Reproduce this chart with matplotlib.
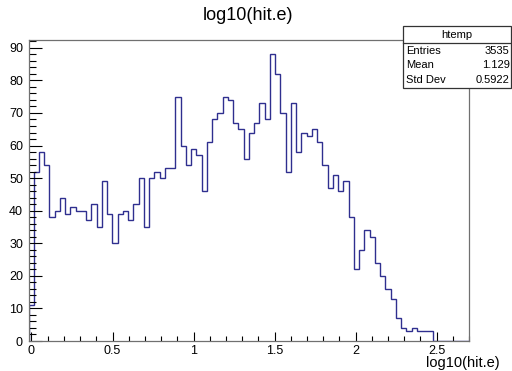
import matplotlib
matplotlib.use("Agg")
import matplotlib.pyplot as plt
from matplotlib.patches import Rectangle
from matplotlib.lines import Line2D
from matplotlib.ticker import MultipleLocator
import numpy as np

plt.rcParams["font.family"] = ["Liberation Sans", "DejaVu Sans"]

# histogram contents (htemp, log10(hit.e))
counts = [
    11, 52, 58, 54, 38, 40, 44, 39, 41, 40,
    40, 37, 42, 35, 49, 39, 30, 39, 40, 37,
    42, 50, 35, 50, 52, 50, 53, 53, 75, 60,
    54, 59, 57, 46, 61, 68, 70, 75, 74, 67,
    65, 56, 64, 67, 73, 68, 88, 82, 70, 52,
    73, 58, 64, 63, 65, 61, 54, 47, 51, 46,
    49, 38, 22, 28, 34, 32, 24, 20, 16, 13,
    7, 4, 3, 4, 3, 3, 3, 0, 0, 0,
    0, 0, 0, 0,
]
x_lo = -0.0185
x_hi = 2.702
title = "log10(hit.e)"
stat_names = ["Entries", "Mean", "Std Dev"]
stat_values = ["3535", "1.129", "0.5922"]

edges = np.linspace(x_lo, x_hi, len(counts) + 1)

W, H = 512, 371
fig = plt.figure(figsize=(W / 100, H / 100), dpi=100, facecolor="white")
ax = fig.add_axes([28.5 / W, 1 - 341 / H, (469.3 - 28.5) / W, (341 - 40) / H])

ax.stairs(counts, edges, baseline=0, color="#2f2f8f", linewidth=1.0)

ax.set_xlim(x_lo, x_hi)
ax.set_ylim(0, max(counts) * 1.05)

ax.xaxis.set_major_locator(MultipleLocator(0.5))
ax.xaxis.set_minor_locator(MultipleLocator(0.1))
ax.yaxis.set_major_locator(MultipleLocator(10))
ax.yaxis.set_minor_locator(MultipleLocator(2))
ax.xaxis.set_major_formatter(lambda v, p: f"{v:g}")

ax.tick_params(axis="x", which="major", direction="in", length=6.5, width=0.8,
               labelsize=9, pad=3)
ax.tick_params(axis="x", which="minor", direction="in", length=3.3, width=0.8)
ax.tick_params(axis="y", which="major", direction="in", length=9.4, width=0.8,
               labelsize=9, pad=4)
ax.tick_params(axis="y", which="minor", direction="in", length=4.7, width=0.8)
for s in ax.spines.values():
    s.set_linewidth(0.9)
    s.set_color("#707070")

fig.text(248 / W, 1 - 15 / H, title, ha="center", va="center", fontsize=13)
fig.text(500 / W, 1 - 363.5 / H, title, ha="right", va="center", fontsize=10.5)

# stats box
bx0, bx1, by0, by1, bhead = 403, 511, 26, 88.3, 42.7
fig.patches.append(Rectangle((bx0 / W, 1 - by1 / H), (bx1 - bx0) / W,
                             (by1 - by0) / H, transform=fig.transFigure,
                             facecolor="white", edgecolor="#333333",
                             linewidth=0.9, zorder=5))
fig.lines.append(Line2D([bx0 / W, bx1 / W], [1 - bhead / H, 1 - bhead / H],
                        transform=fig.transFigure, color="#333333",
                        linewidth=0.9, zorder=6))
fig.text((bx0 + bx1) / 2 / W, 1 - 34.5 / H, "htemp", ha="center", va="center",
         fontsize=8, zorder=7)
for i, (n, v) in enumerate(zip(stat_names, stat_values)):
    yy = 1 - (51 + i * 14.3) / H
    fig.text(406 / W, yy, n, ha="left", va="center", fontsize=8, zorder=7)
    fig.text(509.5 / W, yy, v, ha="right", va="center", fontsize=8, zorder=7)

fig.savefig("out.png", dpi=100)
